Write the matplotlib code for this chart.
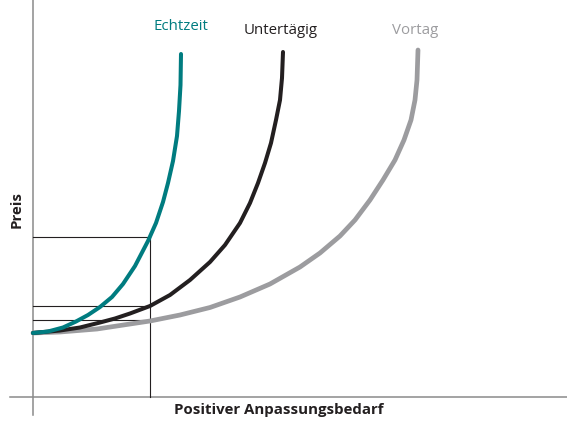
import matplotlib
matplotlib.use("Agg")
import matplotlib.pyplot as plt

plt.rcParams['font.family'] = ['Open Sans', 'DejaVu Sans']

# --- Curves (x: Anpassungsbedarf, y: Preis) ---
echtzeit_x = [0.0, 1.5, 3.0, 4.3, 5.5, 6.7, 7.9, 9.0, 10.2, 11.5, 12.3, 13.0,
              13.5, 14.0, 14.4, 14.6, 14.75, 14.8]
echtzeit_y = [6.4, 6.55, 6.95, 7.55, 8.2, 9.0, 10.0, 11.3, 13.1, 15.6, 17.4, 19.5,
              21.4, 23.6, 26.1, 28.6, 31.2, 34.3]

untertaegig_x = [0.0, 2.7, 4.7, 6.7, 8.2, 9.7, 11.7, 13.7, 15.7, 17.7, 19.2,
                 20.7, 21.7, 22.5, 23.2, 23.8, 24.3, 24.7, 24.9, 25.0]
untertaegig_y = [6.4, 6.65, 6.95, 7.45, 7.85, 8.35, 9.1, 10.2, 11.7, 13.5, 15.2,
                 17.4, 19.4, 21.4, 23.4, 25.4, 27.7, 29.7, 31.9, 34.5]

vortag_x = [0.0, 2.7, 6.4, 9.7, 11.7, 14.7, 17.7, 20.7, 23.7, 26.7, 28.7, 30.7,
            32.2, 33.7, 35.0, 36.2, 37.1, 37.8, 38.2, 38.4, 38.5]
vortag_y = [6.4, 6.5, 6.8, 7.3, 7.6, 8.2, 8.95, 10.0, 11.3, 13.0, 14.4, 16.1,
            17.7, 19.7, 21.7, 23.7, 25.7, 27.7, 29.7, 31.7, 34.7]

# reference point on the x axis and the prices it gives
ref_x = 11.7
ref_prices = [16.0, 9.1, 7.7]

teal = '#007c80'
black = '#231f20'
grey = '#9c9c9f'

fig = plt.figure(figsize=(5.67, 4.21), dpi=100)
ax = fig.add_axes([0, 0, 1, 1])
ax.set_xlim(-3.3, 53.4)
ax.set_ylim(-2.4, 39.7)
ax.axis('off')

# axes drawn as plain lines crossing at the origin
ax.plot([-2.3, 53.4], [0, 0], color='#8a8a8a', lw=1.1)
ax.plot([0, 0], [-1.8, 39.7], color='#8a8a8a', lw=1.1)

# guide lines
ax.plot([ref_x, ref_x], [0, max(ref_prices)], color=black, lw=0.8)
for p in ref_prices:
    ax.plot([0, ref_x], [p, p], color=black, lw=0.8)

ax.plot(vortag_x, vortag_y, color=grey, lw=3.4, solid_capstyle='round',
        solid_joinstyle='round')
ax.plot(untertaegig_x, untertaegig_y, color=black, lw=2.9, solid_capstyle='round',
        solid_joinstyle='round')
ax.plot(echtzeit_x, echtzeit_y, color=teal, lw=2.9, solid_capstyle='round',
        solid_joinstyle='round')

ax.text(14.8, 37.0, 'Echtzeit', color=teal, fontsize=10.8, ha='center', va='center')
ax.text(24.8, 36.7, 'Untertägig', color=black, fontsize=10.8, ha='center', va='center')
ax.text(38.2, 36.7, 'Vortag', color=grey, fontsize=10.8, ha='center', va='center')

ax.text(24.6, -1.3, 'Positiver Anpassungsbedarf', color=black, fontsize=10.8,
        fontweight='bold', ha='center', va='center')
ax.text(-1.6, 18.7, 'Preis', color=black, fontsize=10.8, fontweight='bold',
        rotation=90, ha='center', va='center')

fig.savefig('out.png', dpi=100)
